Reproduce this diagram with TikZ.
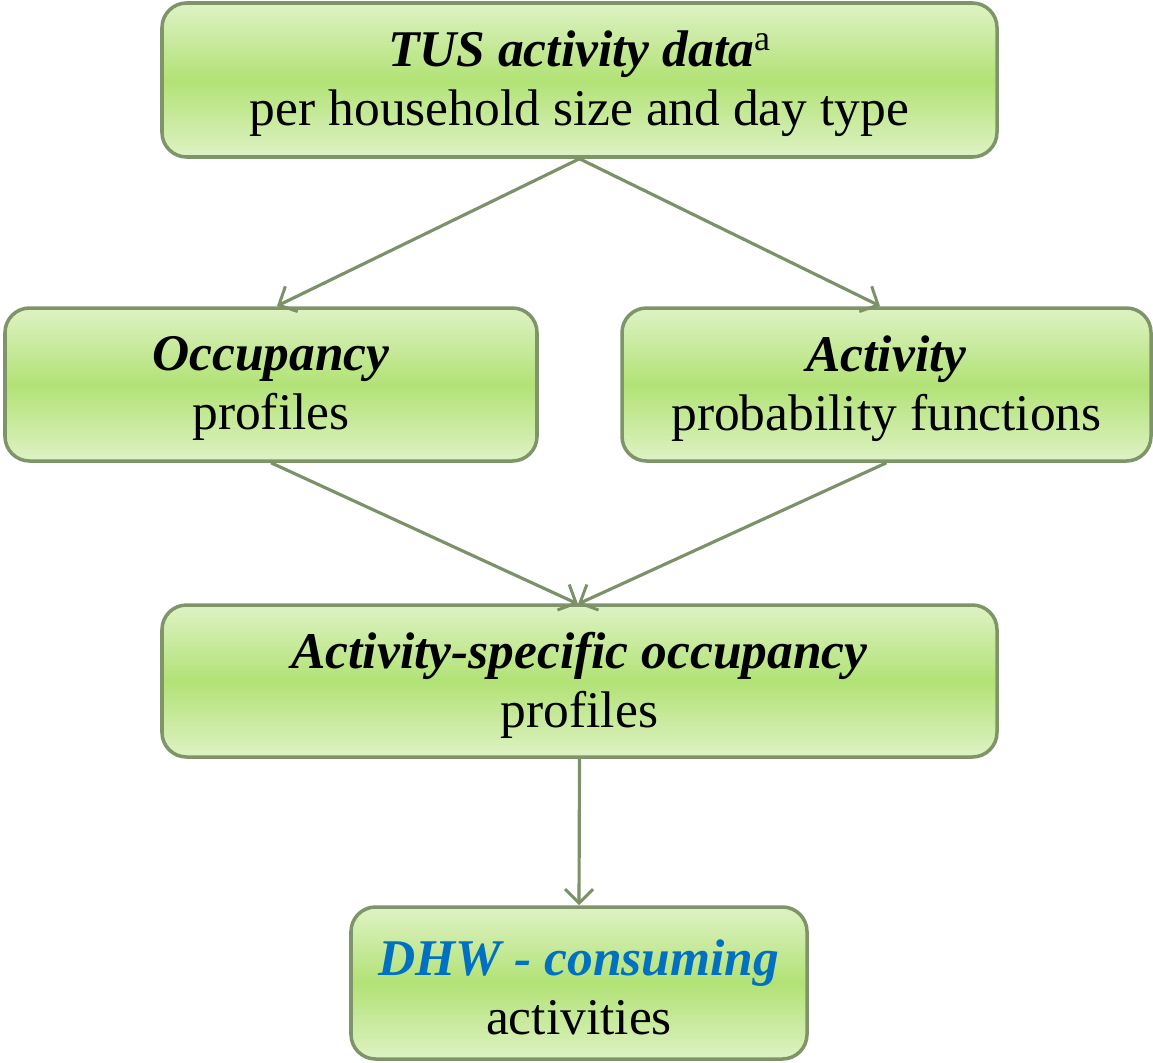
\documentclass[tikz,border=0pt]{standalone}
\usepackage{fontspec}
\setmainfont{Liberation Serif}
\usetikzlibrary{arrows.meta}
\definecolor{edgegreen}{RGB}{128,148,106}
\definecolor{arrowgreen}{RGB}{125,145,105}
\definecolor{lightg}{RGB}{222,242,196}
\definecolor{midg}{RGB}{178,226,118}
\definecolor{dhwblue}{RGB}{0,112,192}
\tikzset{
  box/.style={draw=edgegreen, line width=2pt, rounded corners=14pt,
    top color=lightg, bottom color=lightg, middle color=midg,
    align=center, inner sep=0pt, font=\fontsize{29.3}{33.6}\selectfont},
  conn/.style={draw=arrowgreen, line width=1.8pt,
    -{Straight Barb[length=8pt,width=16pt,line width=1.7pt]}},
  txt/.style={anchor=center, align=center, font=\fontsize{29.3}{33.6}\selectfont}
}
\begin{document}
\begin{tikzpicture}[x=0.02cm,y=-0.02cm]
\useasboundingbox (0,0) rectangle (1153,1062);
\node[box, minimum width=835*0.02cm, minimum height=154*0.02cm] (tus) at (579.5,80) {};
\node[txt] (tust) at (579.5,84)
  {\textbf{\textit{TUS activity data}}\textsuperscript{a}\\per household size and day type};
\node[box, minimum width=532*0.02cm, minimum height=153*0.02cm] (occ) at (271,384.5) {};
\node[txt] (occt) at (271,388.5) {\textbf{\textit{Occupancy}}\\profiles};
\node[box, minimum width=529*0.02cm, minimum height=153*0.02cm] (act) at (886.5,384.5) {};
\node[txt] (actt) at (886.5,388.5) {\textbf{\textit{Activity}}\\probability functions};
\node[box, minimum width=835*0.02cm, minimum height=152*0.02cm] (spec) at (579.5,681) {};
\node[txt] (spect) at (579.5,685) {\textbf{\textit{Activity-specific occupancy}}\\profiles};
\node[box, minimum width=456*0.02cm, minimum height=152*0.02cm] (dhw) at (579,983) {};
\node[txt] (dhwt) at (579,987) {\textcolor{dhwblue}{\textbf{\textit{DHW - consuming}}}\\activities};
\coordinate (occtop) at (277,306);
\coordinate (acttop) at (880,306);
\coordinate (spectop) at (578,604);
\draw[conn] (tus.south) -- (occtop);
\draw[conn] (tus.south) -- (acttop);
\draw[conn] (occ.south) -- (spectop);
\draw[conn] (act.south) -- (spectop);
\draw[conn] (spec.south) -- (dhw.north);
\end{tikzpicture}
\end{document}
